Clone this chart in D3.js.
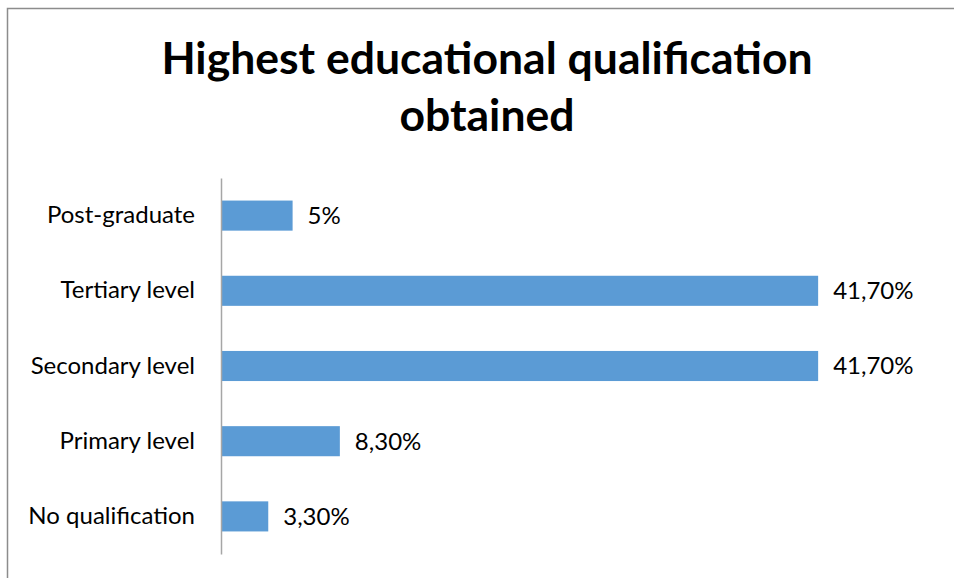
<!DOCTYPE html>
<html>
<head>
<meta charset="utf-8">
<script src="https://cdn.jsdelivr.net/npm/d3@7"></script>
<style>
  html, body { margin: 0; padding: 0; background: #fff; }
  svg { display: block; }
</style>
</head>
<body>
<svg id="chart" width="954" height="578"></svg>
<script>
// Chart data
const categories = ["Post-graduate", "Tertiary level", "Secondary level", "Primary level", "No qualification"];
const values = [5, 41.7, 41.7, 8.3, 3.3];
const valueLabels = ["5%", "41,70%", "41,70%", "8,30%", "3,30%"];
const titleLines = ["Highest educational qualification", "obtained"];

const W = 954, H = 578;
const svg = d3.select("#chart");
const font = "Lato, 'Open Sans', sans-serif";

// Frame (top and left edges)
svg.append("path")
  .attr("d", `M7.5,${H} V8.5 H${W}`)
  .attr("fill", "none")
  .attr("stroke", "#8c8c8c")
  .attr("stroke-width", 1.5);

// Title
svg.append("g").selectAll("text")
  .data(titleLines)
  .join("text")
  .attr("x", 487)
  .attr("y", (d, i) => 74 + i * 57)
  .attr("text-anchor", "middle")
  .attr("font-family", font)
  .attr("font-weight", "bold")
  .attr("font-size", 44.5)
  .attr("fill", "#000")
  .text(d => d);

// Scales
const x0 = 221;
const x = d3.scaleLinear().domain([0, 45]).range([x0, x0 + 644.4]);
const y = d3.scaleBand().domain(categories).range([178, 554])
  .paddingInner(0.6).paddingOuter(0.3);

// Bars
svg.append("g").selectAll("rect")
  .data(categories)
  .join("rect")
  .attr("x", x(0))
  .attr("y", d => y(d))
  .attr("width", (d, i) => x(values[i]) - x(0))
  .attr("height", y.bandwidth())
  .attr("fill", "#5b9bd5");

// Category axis
const yAxis = svg.append("g")
  .attr("transform", `translate(${x0},0)`)
  .call(d3.axisLeft(y).tickSize(0).tickPadding(26));
yAxis.select(".domain").attr("stroke", "#a6a6a6").attr("stroke-width", 1.5);
yAxis.selectAll("text")
  .attr("font-family", font)
  .attr("font-size", 24)
  .attr("fill", "#000");

// Value labels
svg.append("g").selectAll("text")
  .data(categories)
  .join("text")
  .attr("x", (d, i) => x(values[i]) + 15)
  .attr("y", d => y(d) + y.bandwidth() / 2)
  .attr("dy", "0.35em")
  .attr("font-family", font)
  .attr("font-size", 24)
  .attr("fill", "#000")
  .text((d, i) => valueLabels[i]);
</script>
</body>
</html>
